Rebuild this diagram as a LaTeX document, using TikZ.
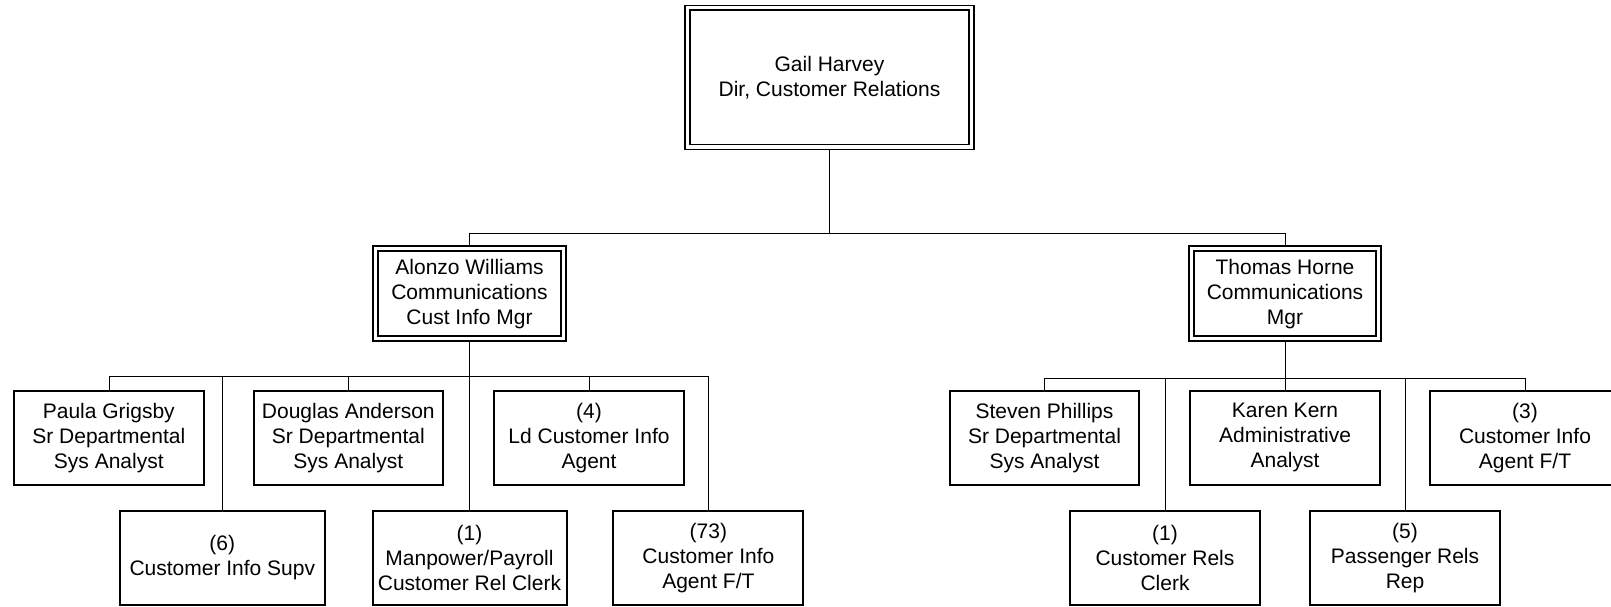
\documentclass[tikz,border=0pt]{standalone}
\usepackage{fontspec}
\setmainfont{Liberation Sans}
\usetikzlibrary{backgrounds}

\newcommand{\chartfont}{\fontsize{21}{25}\selectfont}

\tikzset{
  box/.style={draw, line width=2pt, fill=white, align=center, inner sep=0pt,
    font=\chartfont, minimum height=94pt},
  headbox/.style={box, double, line width=1.8pt, double distance=3pt},
  link/.style={line width=2pt},
}

\begin{document}
\begin{tikzpicture}[x=1pt,y=-1pt]
\useasboundingbox (0,0) rectangle (1611,607);

% director
\node[headbox, minimum width=284pt, minimum height=139pt] (gail) at (829.5,77.5) {Gail Harvey\\Dir, Customer Relations};

% managers
\node[headbox, minimum width=188pt, minimum height=90pt] (alonzo) at (469.5,293.7) {Alonzo Williams\\Communications\\Cust Info Mgr};
\node[headbox, minimum width=187pt, minimum height=90pt] (thomas) at (1285,293.7) {Thomas Horne\\Communications\\Mgr};

% staff under Alonzo Williams
\node[box, minimum width=190pt] (paula) at (108.8,437.8) {Paula Grigsby\\Sr Departmental\\Sys Analyst};
\node[box, minimum width=189pt] (douglas) at (348.3,437.8) {Douglas Anderson\\Sr Departmental\\Sys Analyst};
\node[box, minimum width=190pt] (agent4) at (589,437.8) {(4)\\Ld Customer Info\\Agent};
\node[box, minimum width=205pt] (supv) at (222.3,558) {(6)\\Customer Info Supv};
\node[box, minimum width=194pt] (manpower) at (469.5,558) {(1)\\Manpower/Payroll\\Customer Rel Clerk};
\node[box, minimum width=190pt] (agent73) at (708.4,558) {(73)\\Customer Info\\Agent F/T};

% staff under Thomas Horne
\node[box, minimum width=189pt] (steven) at (1044.5,437.8) {Steven Phillips\\Sr Departmental\\Sys Analyst};
\node[box, minimum width=190pt] (karen) at (1285,437.8) {Karen Kern\\Administrative\\Analyst};
\node[box, minimum width=190pt] (agent3) at (1525,437.8) {(3)\\Customer Info\\Agent F/T};
\node[box, minimum width=190pt] (relsclerk) at (1165,558) {(1)\\Customer Rels\\Clerk};
\node[box, minimum width=190pt] (rep) at (1405,558) {(5)\\Passenger Rels\\Rep};

\coordinate (topbus) at (829.5,233.5);
\coordinate (lbus) at (469.5,375.7);
\coordinate (rbus) at (1285,377.7);

\begin{scope}[on background layer, link]
\draw (gail.south) -- (topbus);
\draw (alonzo.north) |- (topbus) -| (thomas.north);

\draw (alonzo.south) -- (manpower.north);
\draw (paula.north) |- (lbus) -| (agent73.north);
\draw (douglas.north) -- (douglas.north |- lbus);
\draw (agent4.north) -- (agent4.north |- lbus);
\draw (supv.north) -- (supv.north |- lbus);

\draw (thomas.south) -- (karen.north);
\draw (steven.north) |- (rbus) -| (agent3.north);
\draw (relsclerk.north) -- (relsclerk.north |- rbus);
\draw (rep.north) -- (rep.north |- rbus);
\end{scope}
\end{tikzpicture}
\end{document}
